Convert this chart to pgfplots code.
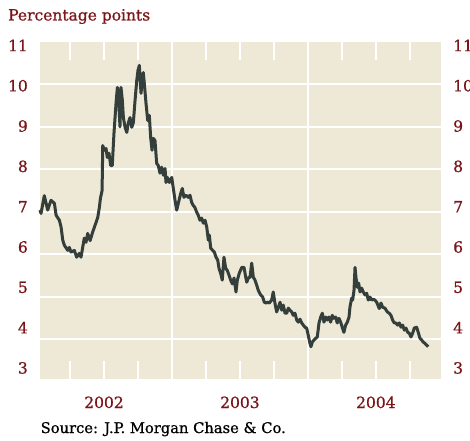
\documentclass[border=0pt]{standalone}
\usepackage{fontspec}
\setmainfont{DejaVu Serif}[FakeBold=0.8]
\usepackage{pgfplots}
\usepackage{pgfplotstable}
\pgfplotsset{compat=1.18}
\definecolor{bgbeige}{RGB}{238,232,214}
\definecolor{labred}{RGB}{122,22,26}
\definecolor{linedark}{RGB}{52,62,58}

% x: months since 1 January 2002, y: percentage points
\pgfplotstableread{
m v
0.35 7.04
0.44 6.96
0.73 7.38
1.03 7.04
1.32 7.27
1.62 7.20
1.77 6.92
2.06 6.80
2.21 6.64
2.36 6.33
2.50 6.21
2.80 6.09
2.94 6.16
3.09 6.05
3.38 6.09
3.59 5.93
3.82 6.02
3.97 5.93
4.26 6.38
4.41 6.28
4.56 6.49
4.77 6.32
5.00 6.52
5.30 6.75
5.45 6.87
5.59 7.10
5.68 7.31
5.83 7.50
5.89 8.56
6.03 8.45
6.18 8.49
6.29 8.28
6.44 8.38
6.59 8.09
6.73 8.09
6.88 8.85
7.06 9.55
7.18 9.93
7.30 9.62
7.41 9.00
7.50 9.93
7.62 9.62
7.71 9.22
7.86 8.99
8.01 8.87
8.15 9.10
8.30 9.22
8.45 8.99
8.59 9.10
8.74 9.62
8.89 10.09
9.00 10.33
9.12 10.45
9.21 10.02
9.27 9.79
9.38 10.16
9.47 10.28
9.56 10.02
9.71 9.55
9.86 9.15
10.00 9.27
10.12 8.75
10.24 8.45
10.35 8.73
10.50 8.68
10.65 8.14
10.79 8.09
10.94 7.91
11.09 8.05
11.24 7.86
11.39 8.02
11.47 7.69
11.59 7.81
11.77 7.69
11.98 7.81
12.12 7.55
12.27 7.27
12.42 7.04
12.56 7.20
12.77 7.43
12.91 7.55
13.06 7.34
13.24 7.39
13.44 7.34
13.59 7.39
13.74 7.22
13.88 7.15
14.03 7.10
14.18 6.99
14.32 6.92
14.47 6.80
14.62 6.85
14.77 6.73
14.92 6.80
15.07 6.64
15.21 6.33
15.30 6.45
15.42 6.14
15.60 6.09
15.74 6.05
15.89 5.93
16.04 5.86
16.15 5.67
16.30 5.55
16.44 5.39
16.59 5.93
16.74 5.67
16.88 5.62
17.03 5.51
17.18 5.39
17.33 5.30
17.48 5.44
17.65 5.11
17.77 5.39
17.94 5.55
18.16 5.69
18.36 5.69
18.51 5.46
18.60 5.34
18.74 5.44
18.89 5.46
19.04 5.79
19.18 5.46
19.33 5.39
19.48 5.27
19.62 5.15
19.83 5.04
20.01 4.99
20.15 4.87
20.30 4.85
20.45 4.87
20.59 4.85
20.80 4.92
20.94 5.11
21.09 4.85
21.24 4.64
21.39 4.75
21.54 4.87
21.69 4.68
21.83 4.80
21.98 4.61
22.13 4.61
22.27 4.73
22.42 4.68
22.57 4.64
22.71 4.56
22.86 4.61
23.01 4.45
23.15 4.40
23.30 4.47
23.45 4.38
23.59 4.33
23.74 4.28
23.89 4.26
24.03 4.09
24.18 3.90
24.27 3.82
24.39 3.93
24.54 3.98
24.69 4.02
24.83 4.05
24.98 4.38
25.13 4.52
25.27 4.61
25.42 4.40
25.57 4.52
25.71 4.45
25.86 4.52
26.01 4.40
26.15 4.56
26.30 4.49
26.45 4.52
26.59 4.38
26.74 4.49
26.89 4.40
27.03 4.28
27.18 4.16
27.33 4.33
27.48 4.40
27.63 4.52
27.71 4.75
27.86 4.96
27.95 4.92
28.07 5.15
28.16 5.69
28.24 5.46
28.36 5.22
28.48 5.32
28.60 5.11
28.75 5.20
28.89 5.11
29.04 5.04
29.19 5.08
29.33 4.92
29.48 4.99
29.63 4.92
29.77 4.94
29.92 4.92
30.07 4.87
30.30 4.72
30.45 4.85
30.60 4.75
30.80 4.73
31.01 4.64
31.18 4.61
31.33 4.56
31.48 4.45
31.62 4.38
31.77 4.38
31.92 4.33
32.07 4.38
32.22 4.28
32.37 4.33
32.51 4.21
32.66 4.26
32.81 4.16
32.95 4.14
33.10 4.05
33.25 4.14
33.39 4.26
33.60 4.28
33.74 4.16
33.89 4.02
34.04 3.98
34.18 3.93
34.33 3.90
34.48 3.86
34.62 3.82
}\spreadtable

\begin{document}
\begin{tikzpicture}
\pgfplotsset{
  common/.style={
    scale only axis,
    width=401bp, height=337bp,
    xmin=0.35, xmax=35.75,
    ymin=3.06, ymax=11,
    ytick={3.32,4.27,5.22,6.17,7.12,8.07,9.02,9.97,10.92},
    yticklabels={3,4,5,6,7,8,9,10,11},
    tick label style={font=\fontsize{15.5bp}{18bp}\selectfont, text=labred, inner sep=0pt},
  }
}
\begin{axis}[
  common,
  axis background/.style={fill=bgbeige},
  axis line style={draw=none},
  xtick={3,6,9,15,18,21,27,30,33},
  xticklabels={,2002,,,2003,,,2004,},
  xtick pos=both,
  tick align=inside,
  xtick style={white, line width=2bp},
  major tick length=18bp,
  ytick style={draw=none},
  ytick pos=left,
  xticklabel style={anchor=base, yshift=-29bp},
  yticklabel style={anchor=east, xshift=-12bp},
  extra x ticks={12,24},
  extra x tick labels={},
  extra x tick style={grid=major, major grid style={white, line width=2.5bp}, major tick length=0pt},
  extra y ticks={4,5,6,7,8,9,10},
  extra y tick labels={},
  extra y tick style={grid=major, major grid style={white, line width=2bp}, major tick length=0pt},
  clip=false,
]
\addplot[color=linedark, line width=3bp, line join=round] table[x=m, y=v] {\spreadtable};
\end{axis}
\begin{axis}[
  common,
  axis x line=none,
  axis y line*=right,
  y axis line style={draw=none},
  ytick style={draw=none},
  yticklabel style={anchor=west, xshift=12bp},
]
\end{axis}
\node[anchor=base west, text=labred, font=\fontsize{15.5bp}{18bp}\selectfont, inner sep=0pt]
  at ([xshift=-32bp, yshift=21.5bp]current axis.north west) {Percentage points};
\node[anchor=base west, text=black, font=\fontsize{14.7bp}{17bp}\selectfont, inner sep=0pt]
  at ([xshift=0.5bp, yshift=-54bp]current axis.south west) {Source: J.P. Morgan Chase \& Co.};
\pgfresetboundingbox
\path ([xshift=-40bp, yshift=-62bp]current axis.south west) rectangle ([xshift=29bp, yshift=42bp]current axis.north east);
\end{tikzpicture}
\end{document}
